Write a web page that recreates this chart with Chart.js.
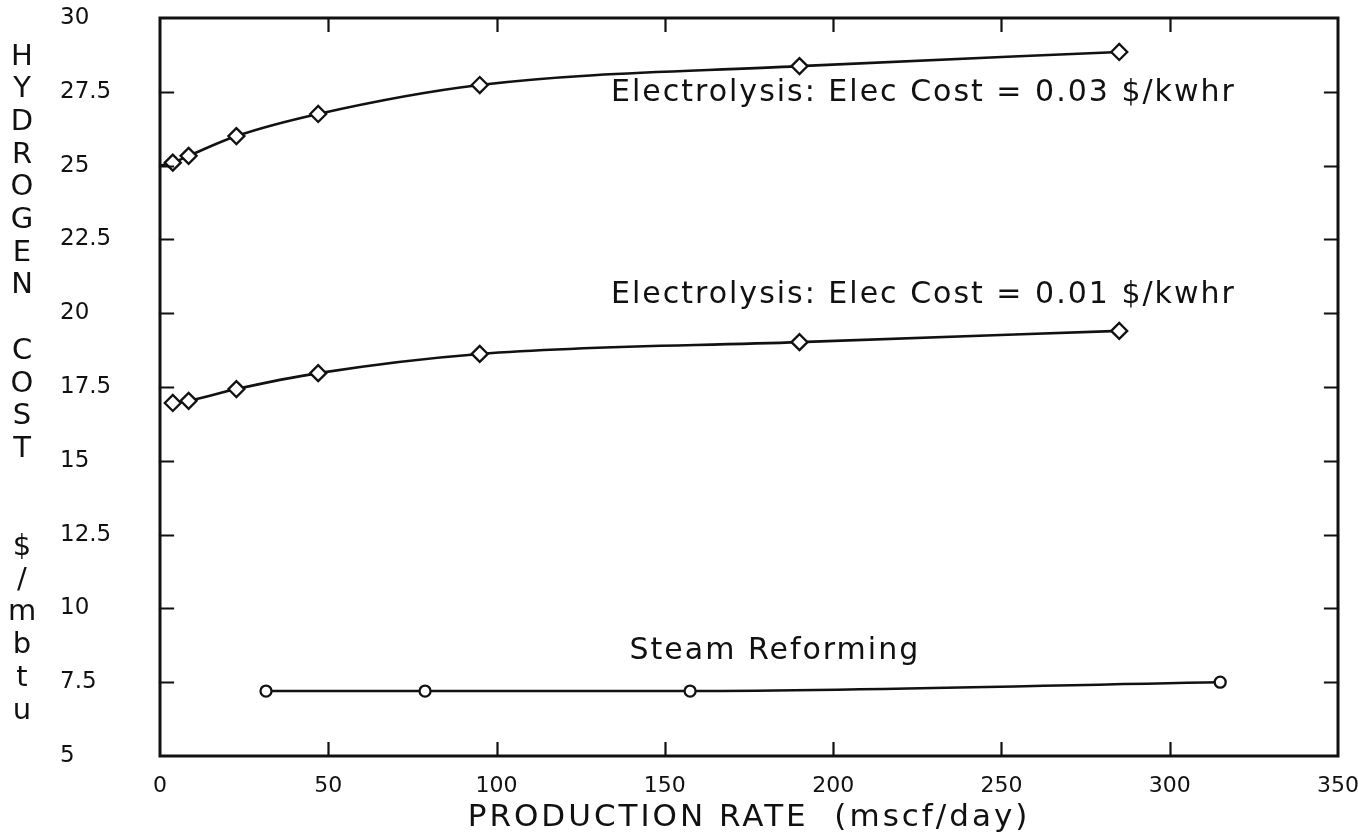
<!DOCTYPE html>
<html>
<head>
<meta charset="utf-8">
<script src="https://cdn.jsdelivr.net/npm/chart.js@4.4.1/dist/chart.umd.min.js"></script>
<style>
  html, body { margin: 0; padding: 0; background: #ffffff; }
  #c { display: block; }
</style>
</head>
<body>
<canvas id="c" width="1358" height="839"></canvas>
<script>
// Production rate (mscf/day) and hydrogen cost ($/mbtu) for each process
const rateElec03 = [0, 3.8, 8.5, 22.7, 47, 95, 190, 285];
const costElec03 = [25.0, 25.1, 25.33, 26.0, 26.75, 27.73, 28.37, 28.85];

const rateElec01 = [3.8, 8.5, 22.7, 47, 95, 190, 285];
const costElec01 = [16.96, 17.03, 17.43, 17.97, 18.62, 19.02, 19.4];

const rateSteam = [31.5, 78.75, 157.5, 315];
const costSteam = [7.2, 7.2, 7.2, 7.5];

// Axis ranges and tick spacing
const xRange = [0, 350];
const xStep = 50;
const yRange = [5, 30];
const yStep = 2.5;

// Text
const curveNames = [
  'Electrolysis: Elec Cost = 0.03 $/kwhr',
  'Electrolysis: Elec Cost = 0.01 $/kwhr',
  'Steam Reforming'
];
const xTitle = 'PRODUCTION RATE  (mscf/day)';
const yTitle = 'HYDROGEN COST  $/mbtu';

// Where each curve name sits, in data units (left edge, vertical middle)
const curveNameAnchors = [
  { x: 134, y: 27.45 },
  { x: 134, y: 20.62 },
  { x: 139.5, y: 8.55 }
];

const FONT = '"DejaVu Sans", sans-serif';
const INK = '#111111';

const toPoints = (xs, ys) => xs.map((x, i) => ({ x: x, y: ys[i] }));

// Frame, inward tick marks, curve names and axis titles
const plotDecor = {
  id: 'plotDecor',
  afterDraw(chart) {
    const ctx = chart.ctx;
    const a = chart.chartArea;
    const xs = chart.scales.x;
    const ys = chart.scales.y;
    const tick = 13;

    ctx.save();
    ctx.strokeStyle = INK;
    ctx.lineWidth = 3;
    ctx.lineCap = 'square';
    ctx.strokeRect(a.left, a.top, a.right - a.left, a.bottom - a.top);

    ctx.lineWidth = 2.2;
    ctx.beginPath();
    xs.ticks.forEach(t => {
      if (t.value <= xRange[0] || t.value >= xRange[1]) return;
      const px = Math.round(xs.getPixelForValue(t.value)) + 0.5;
      ctx.moveTo(px, a.bottom); ctx.lineTo(px, a.bottom - tick);
      ctx.moveTo(px, a.top); ctx.lineTo(px, a.top + tick);
    });
    ys.ticks.forEach(t => {
      if (t.value <= yRange[0] || t.value >= yRange[1]) return;
      const py = Math.round(ys.getPixelForValue(t.value)) + 0.5;
      ctx.moveTo(a.left, py); ctx.lineTo(a.left + tick, py);
      ctx.moveTo(a.right, py); ctx.lineTo(a.right - tick, py);
    });
    ctx.stroke();

    ctx.fillStyle = INK;
    ctx.textBaseline = 'middle';

    // curve names
    ctx.font = '30px ' + FONT;
    ctx.letterSpacing = '2px';
    ctx.textAlign = 'left';
    curveNames.forEach((name, i) => {
      const p = curveNameAnchors[i];
      ctx.fillText(name, xs.getPixelForValue(p.x), ys.getPixelForValue(p.y));
    });

    // x-axis title
    ctx.font = '31px ' + FONT;
    ctx.letterSpacing = '3px';
    ctx.textAlign = 'center';
    ctx.fillText(xTitle, (a.left + a.right) / 2, 818);

    // y-axis title, upright letters stacked down the left margin
    ctx.font = '29px ' + FONT;
    ctx.letterSpacing = '0px';
    ctx.textAlign = 'center';
    Array.from(yTitle).forEach((ch, i) => {
      if (ch !== ' ') ctx.fillText(ch, 22, 57 + i * 32.7);
    });
    ctx.restore();
  }
};

new Chart(document.getElementById('c'), {
  type: 'line',
  data: {
    datasets: [
      {
        label: curveNames[0],
        data: toPoints(rateElec03, costElec03),
        pointStyle: 'rectRot',
        pointRadius: ctx => (ctx.dataIndex === 0 ? 0 : 8)
      },
      {
        label: curveNames[1],
        data: toPoints(rateElec01, costElec01),
        pointStyle: 'rectRot',
        pointRadius: 8
      },
      {
        label: curveNames[2],
        data: toPoints(rateSteam, costSteam),
        pointStyle: 'circle',
        pointRadius: 5.5
      }
    ]
  },
  options: {
    responsive: false,
    devicePixelRatio: 1,
    animation: false,
    layout: { padding: { left: 60, top: 18, right: 20, bottom: 0 } },
    elements: {
      line: {
        borderColor: INK,
        borderWidth: 2.6,
        cubicInterpolationMode: 'monotone',
        fill: false
      },
      point: {
        borderColor: INK,
        backgroundColor: '#ffffff',
        borderWidth: 2.3,
        hoverRadius: 8
      }
    },
    plugins: {
      legend: { display: false },
      tooltip: { enabled: false },
      title: { display: false }
    },
    scales: {
      x: {
        type: 'linear',
        min: xRange[0],
        max: xRange[1],
        grid: { display: false },
        border: { display: false },
        ticks: {
          stepSize: xStep,
          color: INK,
          padding: 9,
          maxRotation: 0,
          font: { family: FONT, size: 22 }
        },
        afterFit: s => {
          s.height = 83;
          s.paddingLeft = 0;
          s.paddingRight = 0;
        }
      },
      y: {
        type: 'linear',
        min: yRange[0],
        max: yRange[1],
        grid: { display: false },
        border: { display: false },
        ticks: {
          stepSize: yStep,
          color: INK,
          crossAlign: 'far',
          font: { family: FONT, size: 23 }
        },
        afterFit: s => { s.width = 100; }
      }
    }
  },
  plugins: [plotDecor]
});
</script>
</body>
</html>
